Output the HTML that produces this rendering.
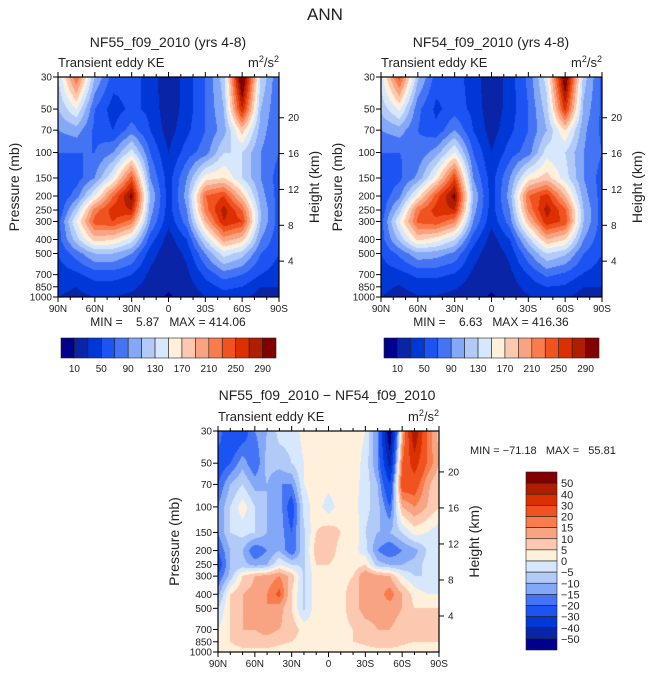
<!DOCTYPE html>
<html><head><meta charset="utf-8">
<style>
body{margin:0;background:#fff;width:649px;height:676px;overflow:hidden;position:relative;font-family:"Liberation Sans",sans-serif}
canvas{position:absolute}
svg{position:absolute;left:0;top:0}
text{font-family:"Liberation Sans",sans-serif;fill:#222;white-space:pre}
</style></head><body>
<canvas id="c1" style="left:58px;top:77px" width="221" height="220"></canvas>
<canvas id="c2" style="left:381px;top:77px" width="221" height="220"></canvas>
<canvas id="c3" style="left:218px;top:431px" width="221" height="221"></canvas>
<svg id="s" width="649" height="676"></svg>
<script>
const pLevels=[30,50,70,100,150,200,250,300,400,500,700,850,1000];
const latsTop=[90,75,60,45,30,15,0,-15,-30,-45,-60,-75,-90];
const latsDiff=[90,80,70,60,50,40,30,20,10,0,-10,-20,-30,-40,-50,-60,-70,-80,-90];
const ke55=[
[130,230,110,60,60,40,15,40,70,120,330,130,70],
[110,150,70,40,55,45,15,40,70,110,270,110,70],
[90,100,65,50,80,50,20,45,70,100,180,100,70],
[70,70,70,90,140,70,30,60,80,130,130,90,70],
[50,60,90,150,240,90,40,90,160,170,130,90,60],
[50,80,150,230,300,110,40,100,230,250,180,100,60],
[50,120,220,260,270,100,40,90,220,280,230,110,60],
[60,150,240,250,220,90,35,80,190,270,250,110,60],
[60,120,180,170,140,60,20,50,130,200,180,90,55],
[50,80,110,110,90,40,15,35,90,140,120,70,50],
[40,45,60,60,50,25,10,25,55,80,70,50,40],
[35,30,40,40,35,20,12,20,40,55,50,30,30],
[30,25,30,30,25,15,8,15,30,40,35,20,20]];
const ke54=[
[140,240,115,60,60,40,15,40,75,140,320,120,65],
[115,155,75,45,60,45,15,40,70,120,260,105,65],
[90,100,70,55,90,50,20,45,70,110,170,95,65],
[70,70,75,100,150,70,30,60,80,140,130,90,70],
[55,65,95,160,250,90,40,90,160,180,140,90,60],
[55,85,160,240,300,110,40,100,230,260,190,100,60],
[55,120,225,260,270,100,40,90,215,280,235,110,60],
[60,150,235,245,215,90,35,80,185,265,245,110,60],
[60,115,175,160,130,60,20,50,120,190,170,90,55],
[50,75,105,100,85,40,15,35,85,130,115,70,50],
[40,42,55,55,48,25,10,25,50,75,65,48,40],
[35,28,38,38,33,20,12,20,38,50,47,30,30],
[30,23,28,28,23,15,8,15,28,38,33,20,20]];
const keDiff=[
[-15,-30,-25,-15,-10,-3,-3,2,5,2,5,3,0,-15,-60,10,50,20,8],
[-25,-20,-12,-20,-8,-8,-5,0,3,0,3,3,-2,-15,-45,20,35,20,10],
[-20,-10,-5,-12,-10,-15,-15,0,3,2,3,2,-2,-10,-30,25,25,12,5],
[-15,-5,3,-5,-10,-12,-25,-3,3,-3,3,2,-3,-8,-20,10,15,10,5],
[-15,-5,-3,-5,-10,-12,-20,-6,5,8,5,5,-5,-10,-10,-5,2,0,-3],
[-20,-10,-10,-20,-15,-10,-20,-6,8,8,3,2,-3,-15,-20,-15,-12,-5,-3],
[-25,-10,-8,-12,-10,0,-5,-6,5,5,3,2,5,-8,-10,-10,-8,-3,-3],
[-20,-8,5,10,12,15,8,-6,3,3,3,5,15,12,10,0,-5,-5,-5],
[-12,5,10,12,15,22,5,-6,3,3,3,8,12,12,18,10,3,0,0],
[-5,5,10,12,15,12,5,-6,3,3,3,8,12,12,12,10,5,5,5],
[0,5,10,10,12,10,8,3,3,3,3,5,8,10,10,8,5,5,5],
[0,5,8,8,8,6,5,3,3,3,3,5,6,8,8,6,5,5,5],
[0,2,3,3,3,3,2,2,2,2,2,2,3,3,3,3,2,2,2]];
const levelsTop=[10,30,50,70,90,110,130,150,170,190,210,230,250,270,290];
const labelsTop=[10,50,90,130,170,210,250,290];
const levelsDiff=[-50,-40,-30,-20,-15,-10,-5,0,5,10,15,20,30,40,50];
const colors=["#00008c","#0a24a8","#0038d8","#1c54f4","#4474f4","#84a8f8","#b2caf8","#d8e8fc","#fff0dc","#fcc8b0","#f8a482","#f87c4c","#f05220","#dc3002","#b01e00","#820000"];
const pTicks=[30,50,70,100,150,200,250,300,400,500,700,850,1000];
const hTicks=[4,8,12,16,20];
const xTicks=[90,60,30,0,-30,-60,-90];
const xTickLabels=["90N","60N","30N","0","30S","60S","90S"];
const info={min1:"5.87",max1:"414.06",min2:"6.63",max2:"416.36",min3:"-71.18",max3:"55.81"};

const L=Math.log;
const yOfP=(p,h)=>h*L(p/30)/L(1000/30);
const xOfLat=(lat,w)=>w*(90-lat)/180;
function colorIdx(v,lev){let i=0;while(i<lev.length&&v>=lev[i])i++;return i;}
function drawField(id,lats,grid,lev){
 const c=document.getElementById(id),ctx=c.getContext('2d'),w=c.width,h=c.height;
 const lp=pLevels.map(p=>yOfP(p,h)), lx=lats.map(l=>xOfLat(l,w));
 for(let py=0;py<h;py++){
  const yy=py+0.5;let j=0;while(j<lp.length-2&&yy>lp[j+1])j++;
  const ty=Math.min(1,Math.max(0,(yy-lp[j])/(lp[j+1]-lp[j])));
  for(let px=0;px<w;px++){
   const xx=px+0.5;let i=0;while(i<lx.length-2&&xx>lx[i+1])i++;
   const tx=Math.min(1,Math.max(0,(xx-lx[i])/(lx[i+1]-lx[i])));
   const v=(grid[j][i]*(1-tx)+grid[j][i+1]*tx)*(1-ty)+(grid[j+1][i]*(1-tx)+grid[j+1][i+1]*tx)*ty;
   ctx.fillStyle=colors[colorIdx(v,lev)];ctx.fillRect(px,py,1,1);
  }
 }
}
drawField('c1',latsTop,ke55,levelsTop);
drawField('c2',latsTop,ke54,levelsTop);
drawField('c3',latsDiff,keDiff,levelsDiff);

const S=document.getElementById('s'),NS='http://www.w3.org/2000/svg';
function el(t,a,txt){const e=document.createElementNS(NS,t);for(const k in a)e.setAttribute(k,a[k]);if(txt!==undefined)e.textContent=txt;S.appendChild(e);return e;}
function axes(x0,y0,w,h,pfx){
 const f=el('rect',{x:x0,y:y0,width:w,height:h,fill:'none',stroke:'#000','stroke-width':1.2});
 
 for(let lat=90;lat>=-90;lat-=10){const x=x0+xOfLat(lat,w),maj=lat%30===0;
  el('line',{x1:x,x2:x,y1:y0+h,y2:y0+h+(maj?5:3),stroke:'#000'});
  el('line',{x1:x,x2:x,y1:y0,y2:y0-(maj?5:3),stroke:'#000'});}
 xTicks.forEach((lat,k)=>{const t=el('text',{x:x0+xOfLat(lat,w),y:y0+h+15,'font-size':10,'text-anchor':'middle'},xTickLabels[k]);
  });
 pTicks.forEach(p=>{const y=y0+yOfP(p,h);el('line',{x1:x0-5,x2:x0,y1:y,y2:y,stroke:'#000'});
  const t=el('text',{x:x0-6,y:y+3.5,'font-size':10,'text-anchor':'end'},p);
  });
 hTicks.forEach(z=>{const y=y0+yOfP(1000*Math.exp(-z/7),h);el('line',{x1:x0+w,x2:x0+w+5,y1:y,y2:y,stroke:'#000'});
  const t=el('text',{x:x0+w+9,y:y+3.5,'font-size':10},z);
  });
 let t=el('text',{transform:`translate(${x0-39},${y0+h/2}) rotate(-90)`,'font-size':14,'text-anchor':'middle',fill:'#444'},'Pressure (mb)');
 
 t=el('text',{transform:`translate(${x0+w+40},${y0+h/2}) rotate(-90)`,'font-size':14,'text-anchor':'middle',fill:'#444'},'Height (km)');
 
 t=el('text',{x:x0,y:y0-10,'font-size':13,fill:'#333'},'Transient eddy KE');
 
 t=el('text',{x:x0+w,y:y0-10,'font-size':13,'text-anchor':'end',fill:'#333'});
 t.innerHTML='m<tspan dy="-5" font-size="9">2</tspan><tspan dy="5">/s</tspan><tspan dy="-5" font-size="9">2</tspan>';
 
}
function hbar(x0,y0,w,h,pfx){const cw=w/colors.length;
 colors.forEach((c,i)=>{const r=el('rect',{x:x0+i*cw,y:y0,width:cw,height:h,fill:c,stroke:'#222','stroke-width':0.6});
  });
 labelsTop.forEach(v=>{const i=levelsTop.indexOf(v)+1;const t=el('text',{x:x0+i*cw,y:y0+h+14,'font-size':10,'text-anchor':'middle'},v);
  });}
function title(x,y,s,txt,name){const t=el('text',{x:x,y:y,'font-size':s,'text-anchor':'middle',fill:'#444'},txt);}

title(325,20,17,'ANN','main-title');
axes(58,77,221,220,'left-panel');axes(381,77,221,220,'right-panel');axes(218,431,221,221,'diff-panel');
title(168,47,14,'NF55_f09_2010 (yrs 4-8)','left-panel-title');
title(491,47,14,'NF54_f09_2010 (yrs 4-8)','right-panel-title');
title(327,400,14,'NF55_f09_2010 − NF54_f09_2010','diff-panel-title');
title(168,326,12,`MIN =    ${info.min1}   MAX = ${info.max1}`,'left-min-max');
title(491,326,12,`MIN =    ${info.min2}   MAX = ${info.max2}`,'right-min-max');
let mm=el('text',{x:470,y:454,'font-size':11},`MIN = ${info.min3.replace('-','−')}   MAX =   ${info.max3}`);

hbar(61,338,215,20,'left');hbar(384,338,215,20,'right');
(function(){const x0=526,y0=472,w=31,h=178,ch=h/colors.length;
 for(let i=0;i<colors.length;i++){const r=el('rect',{x:x0,y:y0+i*ch,width:w,height:ch,fill:colors[colors.length-1-i],stroke:'#222','stroke-width':0.6});
  }
 for(let k=0;k<levelsDiff.length;k++){const v=levelsDiff[levelsDiff.length-1-k];
  const t=el('text',{x:x0+w+4,y:y0+(k+1)*ch+4,'font-size':11},String(v).replace('-','−'));
  }
})();
</script>
</body></html>
